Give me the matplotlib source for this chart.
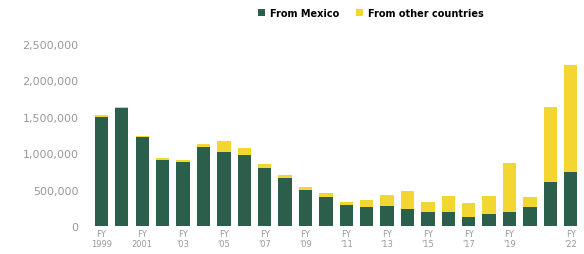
import numpy as np
import matplotlib.pyplot as plt
from matplotlib.ticker import FuncFormatter

##############################
#  data
##############################
years = list(range(1999, 2023))
from_mexico = [1500000, 1620000, 1220000, 910000, 880000, 1080000, 1020000, 970000,
               800000, 660000, 500000, 400000, 290000, 260000, 270000, 230000,
               190000, 190000, 120000, 160000, 190000, 260000, 610000, 740000]
totals = [1520000, 1640000, 1240000, 930000, 900000, 1120000, 1160000, 1070000,
          850000, 700000, 540000, 450000, 330000, 360000, 420000, 480000,
          330000, 410000, 310000, 410000, 860000, 400000, 1640000, 2210000]
from_other = [t - m for t, m in zip(totals, from_mexico)]
tick_years = [1999, 2001, 2003, 2005, 2007, 2009, 2011, 2013, 2015, 2017, 2019, 2022]

GREEN = '#2c5e4c'
YELLOW = '#f4d633'
GRAY = '#999999'

def year_label(y):
	if y in (1999, 2001):
		return 'FY\n%d' % y
	return "FY\n'%02d" % (y % 100)

fig = plt.figure(figsize=(5.84, 2.55), dpi=100)
ax = fig.add_axes([0.158, 0.11, 0.835, 0.714])

x = np.arange(len(years))
ax.bar(x, from_mexico, width=0.65, color=GREEN, label='From Mexico', zorder=2)
ax.bar(x, from_other, width=0.65, bottom=from_mexico, color=YELLOW,
	   label='From other countries', zorder=2)

ax.set_xlim(-0.45, len(years) - 0.55)
ax.set_ylim(0, 2500000)
ax.set_yticks(np.arange(0, 2500001, 500000))
ax.yaxis.set_major_formatter(FuncFormatter(lambda v, p: '{:,.0f}'.format(v)))
ax.set_xticks([years.index(y) for y in tick_years])
ax.set_xticklabels([year_label(y) for y in tick_years])

ax.tick_params(axis='y', length=0, labelsize=8, colors=GRAY, pad=10)
ax.tick_params(axis='x', length=0, labelsize=6, colors=GRAY, pad=2)
for s in ax.spines.values():
	s.set_visible(False)

fig.legend(loc='upper center', bbox_to_anchor=(0.635, 1.0), ncol=2, frameon=False,
		   handlelength=0.7, handleheight=0.7, columnspacing=1.8,
		   handletextpad=0.5, prop={'weight': 'bold', 'size': 7})

fig.savefig('out.png', dpi=100)
